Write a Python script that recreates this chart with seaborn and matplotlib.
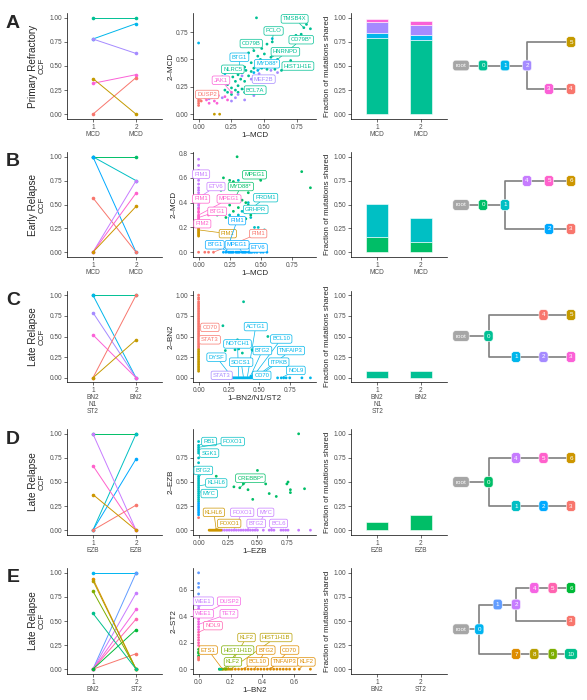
import numpy as np
import pandas as pd
import matplotlib
matplotlib.use('Agg')
import matplotlib.pyplot as plt
import seaborn as sns

sns.set_theme(style='ticks')
plt.rcParams['font.family'] = ['Liberation Sans', 'DejaVu Sans']

W, H = 587, 700

# ---- text
letters = ['A', 'B', 'C', 'D', 'E']
stages = ['Primary Refractory', 'Early Relapse', 'Late Relapse', 'Late Relapse', 'Late Relapse']
tick1 = ['1\nMCD', '1\nMCD', '1\nBN2\nN1\nST2', '1\nEZB', '1\nBN2']
tick2 = ['2\nMCD', '2\nMCD', '2\nBN2', '2\nEZB', '2\nST2']
sc_xlab = ['1–MCD', '1–MCD', '1–BN2/N1/ST2', '1–EZB', '1–BN2']
sc_ylab = ['2–MCD', '2–MCD', '2–BN2', '2–EZB', '2–ST2']

# ---- clone colours (ggplot hue palettes)
col_A = {'0': '#00C094', '1': '#00B6EB', '2': '#A58AFF', '3': '#FB61D7', '4': '#F8766D', '5': '#C49A00'}
col_B = {'0': '#00BE67', '1': '#00BFC4', '2': '#00A9FF', '3': '#F8766D', '4': '#C77CFF', '5': '#FF61CC', '6': '#CD9600'}
col_C = dict(col_A)
col_D = dict(col_B)
col_E = {'0': '#00B4F0', '1': '#619CFF', '2': '#C77CFF', '3': '#F8766D', '4': '#F564E3', '5': '#FF64B0',
         '6': '#00BA38', '7': '#DE8C00', '8': '#B79F00', '9': '#7CAE00', '10': '#00C08B'}

# ---- CCF per clone at time 1 and 2
ccf1_A = [1.00, 0.78, 0.78, 0.32, 0.00, 0.37]
ccf2_A = [1.00, 0.94, 0.63, 0.41, 0.38, 0.00]
ccf1_B = [1.00, 1.00, 1.00, 0.57, 0.00, 0.00, 0.00]
ccf2_B = [1.00, 0.75, 0.00, 0.00, 0.75, 0.62, 0.48]
ccf1_C = [1.00, 1.00, 0.79, 0.52, 0.00, 0.00]
ccf2_C = [1.00, 0.00, 0.00, 0.00, 1.00, 0.46]
ccf1_D = [1.00, 0.00, 0.00, 0.00, 1.00, 0.67, 0.37]
ccf2_D = [1.00, 1.00, 0.74, 0.26, 0.00, 0.00, 0.00]
ccf1_E = [1.00, 0.00, 0.00, 0.00, 0.00, 0.00, 0.00, 0.94, 0.92, 0.81, 0.58]
ccf2_E = [1.00, 1.00, 0.79, 0.16, 0.62, 0.52, 0.41, 0.00, 0.00, 0.00, 0.00]

# ---- fraction of mutations shared (stacked by clone)
bar_cl_A = ['0', '1', '2', '3']
bar1_A = [0.79, 0.05, 0.12, 0.03]
bar2_A = [0.77, 0.05, 0.11, 0.04]
bar_cl_B = ['0', '1']
bar1_B = [0.16, 0.35]
bar2_B = [0.11, 0.25]
bar_cl_C = ['0']
bar1_C = [0.08]
bar2_C = [0.085]
bar_cl_D = ['0']
bar1_D = [0.08]
bar2_D = [0.16]
bar_cl_E = ['0']
bar1_E = [0.005]
bar2_E = [0.005]

# ---- VAF scatter points, by clone
pts_A = {
    '0': [(0.44, 0.88), (0.82, 0.82), (0.80, 0.79), (0.85, 0.78), (0.78, 0.73), (0.74, 0.72), (0.56, 0.66),
          (0.52, 0.64), (0.48, 0.60), (0.42, 0.58), (0.38, 0.56), (0.50, 0.55), (0.45, 0.53), (0.55, 0.52),
          (0.47, 0.50), (0.60, 0.50), (0.70, 0.49), (0.40, 0.47), (0.45, 0.46), (0.55, 0.46), (0.35, 0.43),
          (0.42, 0.42), (0.48, 0.42), (0.52, 0.41), (0.58, 0.41), (0.63, 0.40), (0.36, 0.40), (0.40, 0.39),
          (0.33, 0.38), (0.30, 0.36), (0.38, 0.35), (0.26, 0.34), (0.32, 0.32), (0.28, 0.30), (0.35, 0.30),
          (0.22, 0.27), (0.30, 0.26), (0.25, 0.24), (0.33, 0.23), (0.28, 0.22), (0.22, 0.20), (0.30, 0.20),
          (0.35, 0.20), (0.38, 0.21), (0.25, 0.18), (0.20, 0.22)],
    '1': [(0.00, 0.65), (0.56, 0.69), (0.20, 0.37), (0.22, 0.30), (0.18, 0.34), (0.45, 0.40), (0.50, 0.43),
          (0.42, 0.38), (0.31, 0.43), (0.34, 0.41)],
    '2': [(0.33, 0.35), (0.40, 0.32), (0.46, 0.37), (0.55, 0.40), (0.60, 0.38), (0.28, 0.15), (0.35, 0.13),
          (0.42, 0.17), (0.25, 0.12), (0.18, 0.15), (0.30, 0.18), (0.08, 0.14)],
    '3': [(0.10, 0.15), (0.12, 0.12), (0.15, 0.17), (0.20, 0.16), (0.14, 0.10), (0.06, 0.13), (0.22, 0.13),
          (0.25, 0.20), (0.08, 0.10)],
    '4': [(0.00, 0.08), (0.00, 0.10), (0.00, 0.12), (0.00, 0.14), (0.00, 0.16), (0.02, 0.12), (0.05, 0.15)],
    '5': [(0.12, 0.00), (0.16, 0.00)],
}
pts_B = {
    '0': [(0.31, 0.77), (0.20, 0.60), (0.25, 0.58), (0.18, 0.50), (0.28, 0.57), (0.30, 0.55), (0.35, 0.55),
          (0.22, 0.45), (0.16, 0.45), (0.30, 0.45), (0.35, 0.42), (0.38, 0.40), (0.25, 0.38), (0.20, 0.35),
          (0.32, 0.36), (0.28, 0.33), (0.40, 0.38), (0.45, 0.36), (0.48, 0.35), (0.15, 0.30), (0.22, 0.28),
          (0.35, 0.28), (0.38, 0.27), (0.42, 0.30), (0.30, 0.27), (0.83, 0.65), (0.90, 0.52), (0.50, 0.58),
          (0.40, 0.48), (0.52, 0.42)],
    '1': [(0.32, 0.58), (0.28, 0.53), (0.40, 0.40), (0.32, 0.30), (0.45, 0.32), (0.35, 0.33), (0.42, 0.28),
          (0.38, 0.32), (0.48, 0.20), (0.50, 0.17), (0.25, 0.30), (0.45, 0.20), (0.53, 0.18)],
    '2': [(0.20, 0.0), (0.22, 0.0), (0.24, 0.0), (0.25, 0.0), (0.26, 0.0), (0.27, 0.0), (0.28, 0.0), (0.30, 0.0),
          (0.31, 0.0), (0.32, 0.0), (0.33, 0.0), (0.35, 0.0), (0.36, 0.0), (0.37, 0.0), (0.38, 0.0), (0.40, 0.0),
          (0.41, 0.0), (0.42, 0.0), (0.43, 0.0), (0.45, 0.0), (0.47, 0.0), (0.50, 0.0), (0.52, 0.0), (0.55, 0.0)],
    '3': [(0.00, 0.0), (0.05, 0.0), (0.08, 0.0), (0.12, 0.0)],
    '4': [(0.0, 0.75), (0.0, 0.70), (0.0, 0.66), (0.0, 0.62), (0.0, 0.58), (0.0, 0.55), (0.0, 0.52), (0.0, 0.50),
          (0.0, 0.48), (0.0, 0.46), (0.0, 0.44), (0.0, 0.42), (0.0, 0.40), (0.0, 0.38), (0.0, 0.36)],
    '5': [(0.0, 0.35), (0.0, 0.33), (0.0, 0.32), (0.0, 0.30), (0.0, 0.29), (0.0, 0.28), (0.0, 0.27), (0.0, 0.26),
          (0.0, 0.25), (0.0, 0.24), (0.0, 0.23), (0.0, 0.22), (0.08, 0.30)],
    '6': [(0.0, 0.25), (0.0, 0.23), (0.0, 0.21), (0.0, 0.20), (0.0, 0.19), (0.0, 0.18), (0.0, 0.17), (0.0, 0.16),
          (0.0, 0.15), (0.0, 0.14), (0.0, 0.13)],
}
pts_C = {
    '0': [(0.37, 0.92), (0.20, 0.63), (0.57, 0.50), (0.32, 0.46), (0.22, 0.33), (0.30, 0.34), (0.33, 0.35),
          (0.36, 0.30), (0.45, 0.33), (0.44, 0.34)],
    '1': [(0.27, 0.0), (0.28, 0.0), (0.29, 0.0), (0.30, 0.0), (0.31, 0.0), (0.32, 0.0), (0.33, 0.0), (0.34, 0.0),
          (0.35, 0.0), (0.36, 0.0), (0.37, 0.0), (0.38, 0.0), (0.39, 0.0), (0.40, 0.0), (0.41, 0.0), (0.42, 0.0),
          (0.43, 0.0), (0.44, 0.0), (0.45, 0.0), (0.46, 0.0), (0.47, 0.0), (0.48, 0.0), (0.65, 0.0), (0.68, 0.0),
          (0.70, 0.0), (0.72, 0.0), (0.75, 0.0), (0.85, 0.0), (0.92, 0.0), (0.43, 0.02), (0.45, 0.03)],
    '2': [(0.25, 0.0), (0.27, 0.0)],
    '4': [(0.0, 1.00), (0.0, 0.97), (0.0, 0.95), (0.0, 0.92), (0.0, 0.90), (0.0, 0.88), (0.0, 0.86), (0.0, 0.84),
          (0.0, 0.82), (0.0, 0.80), (0.0, 0.78), (0.0, 0.76), (0.0, 0.74), (0.0, 0.72), (0.0, 0.70), (0.0, 0.68),
          (0.0, 0.66), (0.0, 0.64), (0.0, 0.62), (0.0, 0.60), (0.0, 0.58), (0.0, 0.56), (0.0, 0.54), (0.0, 0.52),
          (0.0, 0.50), (0.0, 0.48), (0.0, 0.46), (0.0, 0.44), (0.0, 0.42), (0.0, 0.40), (0.0, 0.38), (0.0, 0.36)],
    '5': [(0.0, 0.34), (0.0, 0.32), (0.0, 0.30), (0.0, 0.28), (0.0, 0.26), (0.0, 0.24), (0.0, 0.22), (0.0, 0.20),
          (0.0, 0.18), (0.0, 0.16), (0.0, 0.14), (0.0, 0.12), (0.0, 0.10), (0.0, 0.08)],
}
pts_D = {
    '0': [(0.15, 0.56), (0.35, 0.44), (0.30, 0.45), (0.38, 0.48), (0.42, 0.42), (0.46, 0.32), (0.50, 0.62),
          (0.57, 0.48), (0.60, 0.38), (0.66, 0.35), (0.75, 0.48), (0.76, 0.50), (0.78, 0.42), (0.78, 0.39),
          (0.85, 1.00), (0.90, 0.43)],
    '1': [(0.0, 0.92), (0.0, 0.88), (0.0, 0.86), (0.0, 0.84), (0.0, 0.82), (0.0, 0.80), (0.0, 0.75), (0.0, 0.70),
          (0.0, 0.65), (0.0, 0.60), (0.0, 0.56), (0.0, 0.54), (0.0, 0.52), (0.0, 0.50), (0.0, 0.48), (0.0, 0.46),
          (0.0, 0.44), (0.0, 0.42), (0.0, 0.40), (0.0, 0.38), (0.0, 0.36), (0.0, 0.34), (0.0, 0.32), (0.0, 0.30)],
    '2': [(0.0, 0.28), (0.0, 0.26), (0.0, 0.24), (0.0, 0.22), (0.0, 0.20), (0.0, 0.18), (0.0, 0.16)],
    '3': [(0.0, 0.13)],
    '4': [(0.20, 0.0), (0.22, 0.0), (0.24, 0.0), (0.26, 0.0), (0.28, 0.0), (0.30, 0.0), (0.32, 0.0), (0.34, 0.0),
          (0.36, 0.0), (0.38, 0.0), (0.40, 0.0), (0.42, 0.0), (0.44, 0.0), (0.46, 0.0), (0.48, 0.0), (0.50, 0.0),
          (0.55, 0.0), (0.60, 0.0), (0.62, 0.0), (0.64, 0.0), (0.70, 0.0), (0.72, 0.0), (0.74, 0.0), (0.76, 0.0),
          (0.85, 0.0), (0.95, 0.0)],
    '6': [(0.09, 0.0), (0.10, 0.0), (0.11, 0.0), (0.12, 0.0), (0.13, 0.0), (0.14, 0.0), (0.15, 0.0), (0.16, 0.0),
          (0.17, 0.0), (0.18, 0.0), (0.19, 0.0)],
}
pts_E = {
    '1': [(0.0, 0.73), (0.0, 0.65), (0.0, 0.62), (0.0, 0.57)],
    '2': [(0.0, 0.50), (0.0, 0.48), (0.0, 0.46), (0.0, 0.44)],
    '4': [(0.0, 0.42), (0.0, 0.40), (0.0, 0.38), (0.0, 0.36), (0.0, 0.34), (0.0, 0.32), (0.0, 0.30)],
    '5': [(0.0, 0.28), (0.0, 0.26), (0.0, 0.24), (0.0, 0.22), (0.0, 0.20), (0.0, 0.18)],
    '6': [(0.0, 0.15), (0.0, 0.13), (0.0, 0.12), (0.0, 0.10)],
    '3': [(0.0, 0.09), (0.0, 0.08), (0.0, 0.07)],
    '7': [(0.15, 0.0), (0.17, 0.0), (0.19, 0.0), (0.21, 0.0), (0.23, 0.0), (0.25, 0.0), (0.27, 0.0), (0.29, 0.0),
          (0.31, 0.0), (0.33, 0.0), (0.35, 0.0), (0.37, 0.0), (0.39, 0.0), (0.41, 0.0), (0.43, 0.0), (0.45, 0.0),
          (0.47, 0.0), (0.49, 0.0), (0.51, 0.0), (0.53, 0.0), (0.55, 0.0), (0.57, 0.0), (0.60, 0.0), (0.63, 0.0),
          (0.70, 0.0)],
    '8': [(0.14, 0.0), (0.16, 0.0), (0.18, 0.0), (0.20, 0.0)],
    '9': [(0.13, 0.0), (0.15, 0.0), (0.17, 0.0)],
    '10': [(0.13, 0.0), (0.14, 0.0)],
}

# ---- gene labels: gene, clone, point x, point y, label x, label y
lab_A = [('TMSB4X', '0', 0.80, 0.79, 0.73, 0.87), ('PCLO', '0', 0.56, 0.66, 0.57, 0.76),
         ('CD79B*', '0', 0.60, 0.50, 0.78, 0.68), ('CD79B', '0', 0.42, 0.58, 0.40, 0.645),
         ('HNRNPD', '0', 0.55, 0.52, 0.66, 0.57), ('BTG1', '1', 0.31, 0.43, 0.31, 0.52),
         ('MYD88*', '1', 0.45, 0.40, 0.52, 0.46), ('HIST1H1E', '0', 0.63, 0.40, 0.755, 0.44),
         ('NLRC5', '0', 0.33, 0.38, 0.26, 0.41), ('MEF2B', '2', 0.46, 0.37, 0.495, 0.32),
         ('JAK1', '3', 0.25, 0.20, 0.17, 0.31), ('BCL7A', '0', 0.33, 0.23, 0.43, 0.22),
         ('DUSP2', '4', 0.00, 0.12, 0.065, 0.18)]
lab_B = [('PIM1', '4', 0.0, 0.58, 0.02, 0.63), ('ETV6', '4', 0.0, 0.44, 0.14, 0.53),
         ('MPEG1', '0', 0.50, 0.58, 0.45, 0.625), ('MYD88*', '0', 0.30, 0.45, 0.34, 0.53),
         ('PIM1', '5', 0.0, 0.35, 0.02, 0.43), ('MPEG1', '5', 0.0, 0.30, 0.245, 0.43),
         ('PRDM1', '1', 0.38, 0.32, 0.54, 0.44), ('BTG1', '5', 0.0, 0.28, 0.15, 0.33),
         ('GRHPR', '1', 0.45, 0.32, 0.46, 0.345), ('PIM2', '5', 0.0, 0.24, 0.03, 0.23),
         ('PIM1', '6', 0.0, 0.18, 0.235, 0.15), ('PIM1', '2', 0.22, 0.0, 0.31, 0.255),
         ('PIM1', '3', 0.12, 0.0, 0.48, 0.15), ('BTG1', '2', 0.25, 0.0, 0.13, 0.06),
         ('MPEG1', '2', 0.35, 0.0, 0.31, 0.06), ('ETV6', '2', 0.45, 0.0, 0.48, 0.035)]
lab_C = [('CD70', '4', 0.0, 0.62, 0.093, 0.61), ('STAT3', '4', 0.0, 0.46, 0.093, 0.46),
         ('ACTG1', '1', 0.40, 0.0, 0.47, 0.62), ('BCL10', '1', 0.44, 0.0, 0.68, 0.47),
         ('NOTCH1', '1', 0.33, 0.0, 0.32, 0.41), ('BTG2', '1', 0.42, 0.0, 0.525, 0.33),
         ('TNFAIP3', '1', 0.46, 0.0, 0.76, 0.33), ('DYSF', '1', 0.28, 0.0, 0.147, 0.25),
         ('SOCS1', '1', 0.37, 0.0, 0.35, 0.19), ('ITPKB', '1', 0.47, 0.0, 0.66, 0.19),
         ('STAT3', '2', 0.27, 0.0, 0.19, 0.03), ('CD70', '1', 0.48, 0.0, 0.52, 0.03),
         ('NOL9', '1', 0.68, 0.0, 0.80, 0.09)]
lab_D = [('RB1', '1', 0.0, 0.88, 0.09, 0.92), ('FOXO1', '1', 0.0, 0.86, 0.29, 0.92),
         ('SGK1', '1', 0.0, 0.84, 0.09, 0.80), ('BTG2', '1', 0.0, 0.54, 0.04, 0.62),
         ('KLHL6', '1', 0.0, 0.46, 0.15, 0.49), ('CREBBP*', '0', 0.35, 0.44, 0.44, 0.54),
         ('MYC', '1', 0.0, 0.40, 0.09, 0.38), ('KLHL6', '6', 0.15, 0.0, 0.13, 0.185),
         ('FOXO1', '4', 0.30, 0.0, 0.37, 0.185), ('MYC', '4', 0.48, 0.0, 0.57, 0.185),
         ('FOXO1', '6', 0.12, 0.0, 0.26, 0.07), ('BTG2', '4', 0.40, 0.0, 0.49, 0.07),
         ('BCL6', '4', 0.60, 0.0, 0.68, 0.07)]
lab_E = [('WEE1', '2', 0.0, 0.46, 0.03, 0.515), ('DUSP2', '4', 0.0, 0.40, 0.19, 0.515),
         ('WEE1', '4', 0.0, 0.38, 0.03, 0.42), ('TET2', '4', 0.0, 0.34, 0.19, 0.42),
         ('NOL9', '5', 0.0, 0.28, 0.09, 0.33), ('KLF2', '8', 0.18, 0.0, 0.30, 0.24),
         ('HIST1H1B', '8', 0.20, 0.0, 0.485, 0.24), ('ETS1', '7', 0.15, 0.0, 0.06, 0.145),
         ('HIST1H1D', '9', 0.17, 0.0, 0.245, 0.145), ('BTG2', '7', 0.35, 0.0, 0.42, 0.145),
         ('CD70', '7', 0.45, 0.0, 0.57, 0.145), ('KLF2', '9', 0.15, 0.0, 0.215, 0.055),
         ('BCL10', '7', 0.27, 0.0, 0.37, 0.055), ('TNFAIP3', '7', 0.43, 0.0, 0.54, 0.055),
         ('KLF2', '7', 0.63, 0.0, 0.675, 0.055)]

# ---- clone trees (parent, child), children listed top to bottom
tree_A = [('root', '0'), ('0', '1'), ('1', '2'), ('2', '5'), ('2', '3'), ('3', '4')]
tree_B = [('root', '0'), ('0', '1'), ('1', '4'), ('4', '5'), ('5', '6'), ('1', '2'), ('2', '3')]
tree_C = [('root', '0'), ('0', '4'), ('4', '5'), ('0', '1'), ('1', '2'), ('2', '3')]
tree_D = [('root', '0'), ('0', '4'), ('4', '5'), ('5', '6'), ('0', '1'), ('1', '2'), ('2', '3')]
tree_E = [('root', '0'), ('0', '1'), ('1', '2'), ('2', '4'), ('4', '5'), ('5', '6'), ('2', '3'),
          ('0', '7'), ('7', '8'), ('8', '9'), ('9', '10')]

sc_xticks = [[0, 0.25, 0.5, 0.75]] * 4 + [[0, 0.2, 0.4, 0.6]]
sc_yticks = [[0, 0.25, 0.5, 0.75], [0, 0.2, 0.4, 0.6, 0.8], [0, 0.25, 0.5, 0.75, 1.0],
             [0, 0.25, 0.5, 0.75], [0, 0.2, 0.4, 0.6]]

rows = [
    dict(col=col_A, ccf1=ccf1_A, ccf2=ccf2_A, bcl=bar_cl_A, b1=bar1_A, b2=bar2_A, pts=pts_A, lab=lab_A, tree=tree_A),
    dict(col=col_B, ccf1=ccf1_B, ccf2=ccf2_B, bcl=bar_cl_B, b1=bar1_B, b2=bar2_B, pts=pts_B, lab=lab_B, tree=tree_B),
    dict(col=col_C, ccf1=ccf1_C, ccf2=ccf2_C, bcl=bar_cl_C, b1=bar1_C, b2=bar2_C, pts=pts_C, lab=lab_C, tree=tree_C),
    dict(col=col_D, ccf1=ccf1_D, ccf2=ccf2_D, bcl=bar_cl_D, b1=bar1_D, b2=bar2_D, pts=pts_D, lab=lab_D, tree=tree_D),
    dict(col=col_E, ccf1=ccf1_E, ccf2=ccf2_E, bcl=bar_cl_E, b1=bar1_E, b2=bar2_E, pts=pts_E, lab=lab_E, tree=tree_E),
]

# layout in pixels
row_top = [13, 152, 291, 429, 568]
row_bot = [119, 257, 382, 535, 674]
leaf_top = [42, 181, 315, 458, 588]
leaf_bot = [89, 229, 357, 506, 654]


def px_box(l, t, r, b):
    return [l / W, 1 - b / H, (r - l) / W, (b - t) / H]


def style_ax(ax):
    sns.despine(ax=ax)
    for s in ['left', 'bottom']:
        ax.spines[s].set_linewidth(0.5)
        ax.spines[s].set_color('black')
    ax.tick_params(length=2, width=0.5, pad=1.5, labelsize=4.7, color='#333333', labelcolor='#4D4D4D')
    ax.grid(False)


def fmt(v, step):
    return f'{v:.2f}' if step == 0.25 else f'{v:.1f}'


def tree_layout(edges):
    children = {}
    for p, c in edges:
        children.setdefault(p, []).append(c)

    def height(n):
        return 0 if n not in children else 1 + max(height(c) for c in children[n])

    hmax = height('root')
    xpos, ypos, leaves = {}, {}, []

    def visit(n):
        xpos[n] = hmax - height(n)
        if n not in children:
            ypos[n] = len(leaves)
            leaves.append(n)
        else:
            for c in children[n]:
                visit(c)
            ypos[n] = np.mean([ypos[c] for c in children[n]])

    visit('root')
    return xpos, ypos, hmax, len(leaves)


fig = plt.figure(figsize=(W / 100, H / 100), dpi=100)
fig.patch.set_facecolor('white')

for i, r in enumerate(rows):
    top, bot = row_top[i], row_bot[i]
    cols = r['col']
    clones = list(cols.keys())

    fig.text(13 / W, 1 - (top + 10) / H, letters[i], fontsize=14, fontweight='bold', ha='center', va='center')
    fig.text(33 / W, 1 - (top + bot) / 2 / H, stages[i], fontsize=7.2, rotation=90, ha='center', va='center')

    # CCF lines
    ax = fig.add_axes(px_box(67, top, 162, bot))
    ccf = pd.DataFrame({'clone': clones * 2, 'time': [1] * len(clones) + [2] * len(clones),
                        'ccf': r['ccf1'] + r['ccf2']})
    sns.lineplot(data=ccf, x='time', y='ccf', hue='clone', palette=cols, estimator=None, legend=False,
                 marker='o', markersize=2.6, markeredgewidth=0, linewidth=0.7, ax=ax)
    ax.set_xlim(0.4, 2.6)
    ax.set_ylim(-0.05, 1.05)
    ax.set_xticks([1, 2], [tick1[i], tick2[i]], linespacing=1.0)
    yt = [0, 0.25, 0.5, 0.75, 1.0]
    ax.set_yticks(yt, [fmt(v, 0.25) for v in yt])
    ax.set_xlabel('')
    ax.set_ylabel('CCF', fontsize=5.8, labelpad=3)
    style_ax(ax)

    # VAF scatter
    ax = fig.add_axes(px_box(193, top, 316, bot))
    sc = pd.DataFrame([(x, y, c) for c, lst in r['pts'].items() for x, y in lst], columns=['x', 'y', 'clone'])
    sns.scatterplot(data=sc, x='x', y='y', hue='clone', palette=cols, s=4, linewidth=0, legend=False, ax=ax)
    ax.margins(0.05)
    for gene, c, px, py, lx, ly in r['lab']:
        ax.annotate(gene, xy=(px, py), xytext=(lx, ly), fontsize=4.2, color=cols[c], ha='center', va='center',
                    bbox=dict(boxstyle='round,pad=0.3', fc='white', ec=cols[c], lw=0.5),
                    arrowprops=dict(arrowstyle='-', color=cols[c], lw=0.5, shrinkA=0, shrinkB=1))
    xs, ys = sc_xticks[i], sc_yticks[i]
    ax.set_xticks(xs, [fmt(v, xs[1] - xs[0]) for v in xs])
    ax.set_yticks(ys, [fmt(v, ys[1] - ys[0]) for v in ys])
    ax.set_xlabel(sc_xlab[i], fontsize=5.8, labelpad=1)
    ax.set_ylabel(sc_ylab[i], fontsize=5.8, labelpad=1)
    style_ax(ax)

    # shared fraction bars
    ax = fig.add_axes(px_box(351, top, 447, bot))
    bottom = np.zeros(2)
    for c, v1, v2 in zip(r['bcl'], r['b1'], r['b2']):
        vals = np.array([v1, v2])
        ax.bar([1, 2], vals, bottom=bottom, width=0.5, color=cols[c], edgecolor='white', linewidth=0.4)
        bottom += vals
    ax.set_xlim(0.4, 2.6)
    ax.set_ylim(-0.05, 1.05)
    ax.set_xticks([1, 2], [tick1[i], tick2[i]], linespacing=1.0)
    ax.set_yticks(yt, [fmt(v, 0.25) for v in yt])
    ax.set_ylabel('Fraction of mutations shared', fontsize=5.8, labelpad=2)
    style_ax(ax)

    # clone tree
    xpos, ypos, hmax, nleaf = tree_layout(r['tree'])
    ax = fig.add_axes(px_box(461, leaf_top[i], 571, leaf_bot[i]))
    ax.set_xlim(0, hmax)
    ax.set_ylim(nleaf - 1, 0)
    ax.axis('off')
    for p, c in r['tree']:
        ax.plot([xpos[p], xpos[p], xpos[c]], [ypos[p], ypos[c], ypos[c]], color='#7F7F7F', lw=1.2,
                clip_on=False, zorder=1, solid_capstyle='butt')
    for n in xpos:
        fc = '#A6A6A6' if n == 'root' else cols[n]
        ax.text(xpos[n], ypos[n], n, fontsize=4.5, color='white', ha='center', va='center', zorder=3,
                bbox=dict(boxstyle='round,pad=0.45', fc=fc, ec='white', lw=0.4))

fig.savefig('out.png', dpi=100, facecolor='white')
